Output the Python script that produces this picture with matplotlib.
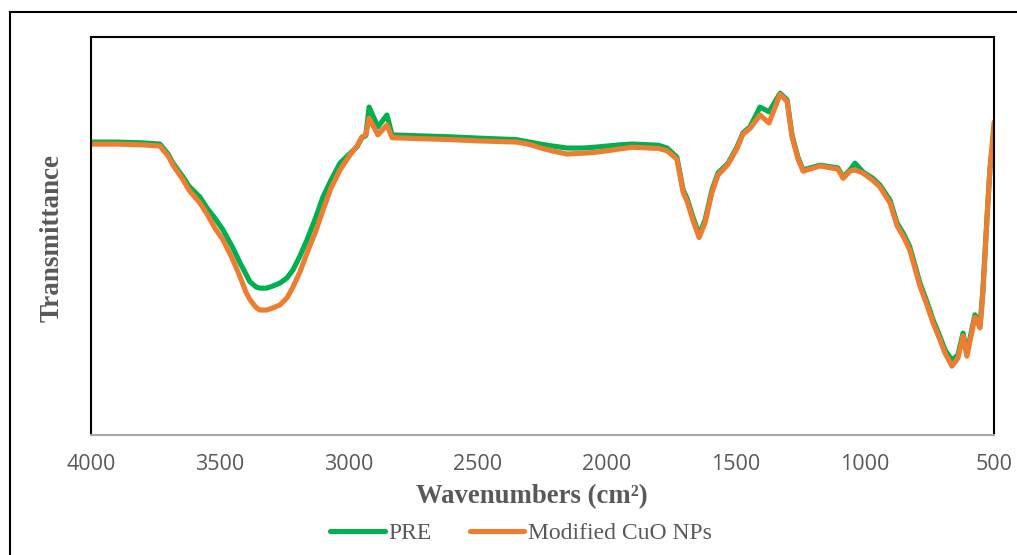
import matplotlib
matplotlib.use("Agg")
import matplotlib.pyplot as plt
from matplotlib.lines import Line2D

# ---------------- data ----------------
wavenumber = [4000, 3900, 3800, 3733, 3700, 3682, 3643, 3620, 3578, 3550, 3520,
              3488, 3450, 3422, 3400, 3384, 3360, 3345, 3320, 3300, 3267, 3240,
              3217, 3190, 3163, 3130, 3101, 3070, 3035, 3000, 2969, 2950, 2935,
              2922, 2888, 2853, 2833, 2600, 2500, 2349, 2300, 2250, 2200, 2155,
              2093, 2050, 2000, 1950, 1900, 1800, 1767, 1729, 1705, 1690,
              1667, 1643, 1620, 1593, 1570, 1531, 1496, 1473, 1446, 1407, 1372,
              1329, 1302, 1283, 1260, 1240, 1213, 1174, 1124, 1105, 1085, 1058,
              1039, 1008, 970, 942, 903, 876, 850, 826, 787, 760, 736, 710, 690,
              663, 640, 620, 605, 574, 554, 543, 527, 516, 508, 500]

pre = [73.6, 73.6, 73.4, 73.1, 70.5, 68.3, 64.8, 62.5, 59.8, 57.0, 54.5,
       51.5, 47.0, 43.2, 40.5, 38.5, 37.2, 36.9, 36.9, 37.3, 38.2, 39.5,
       41.5, 45.0, 49.0, 54.5, 59.8, 64.0, 68.3, 70.5, 72.4, 74.7, 75.2,
       82.4, 77.4, 80.4, 75.4, 74.9, 74.6, 74.2, 73.6, 73.0, 72.5, 72.1,
       72.1, 72.3, 72.6, 72.9, 73.1, 72.8, 72.1, 69.8, 61.6, 59.5,
       54.8, 50.3, 54.0, 61.6, 65.8, 68.3, 72.4, 75.9, 77.4, 82.4, 81.2,
       85.9, 84.2, 75.4, 69.8, 66.6, 67.1, 67.8, 67.3, 67.1, 64.8, 66.6,
       68.3, 66.1, 64.5, 62.8, 59.0, 53.3, 50.5, 47.2, 38.2, 33.5, 28.9, 24.8, 21.4,
       18.8, 20.1, 25.6, 20.6, 30.2, 27.6, 36.4, 54.8, 66.6, 71.6, 73.6]

cuo = [73.1, 73.1, 72.9, 72.6, 70.0, 67.8, 64.1, 61.5, 58.3, 55.5, 52.0,
       49.0, 44.0, 39.7, 36.0, 34.0, 32.0, 31.4, 31.4, 31.8, 32.7, 34.5,
       37.2, 41.0, 45.7, 51.0, 56.5, 62.0, 66.6, 70.0, 72.6, 74.9, 75.4,
       79.6, 75.4, 77.9, 74.7, 74.2, 73.9, 73.6, 73.0, 72.0, 71.2, 70.6,
       70.8, 71.0, 71.4, 71.9, 72.3, 72.0, 71.4, 69.3, 61.0, 58.8,
       54.0, 49.6, 53.3, 61.0, 65.3, 68.0, 72.0, 75.6, 77.0, 80.4, 78.4,
       85.6, 83.8, 75.0, 69.4, 66.3, 66.8, 67.6, 67.0, 66.8, 64.5, 66.3,
       66.6, 65.8, 64.0, 62.3, 58.3, 52.6, 49.7, 46.4, 37.4, 32.7, 28.1, 24.0, 20.6,
       17.3, 19.3, 24.9, 19.8, 29.6, 26.9, 35.9, 54.5, 66.6, 72.5, 78.6]

x_ticks = [4000, 3500, 3000, 2500, 2000, 1500, 1000, 500]
series_names = ["PRE", "Modified CuO NPs"]
colors = ["#00B050", "#ED7D31"]

# ---------------- figure ----------------
W, H = 1017, 555
fig = plt.figure(figsize=(W / 100, H / 100), dpi=100)
ax = fig.add_axes([91 / W, 1 - 435 / H, (994 - 91) / W, (435 - 37) / H])

for vals, name, col in zip([pre, cuo], series_names, colors):
    ax.plot(wavenumber, vals, color=col, lw=3.7, label=name,
            solid_joinstyle="round", solid_capstyle="round")

ax.set_xlim(4000, 500)
ax.set_ylim(0, 100)
ax.set_xticks(x_ticks)
ax.set_xticklabels([str(t) for t in x_ticks])
ax.set_yticks([])
ax.tick_params(axis="x", length=0, pad=14, labelsize=15.5, labelcolor="#595959")
for lbl in ax.get_xticklabels():
    lbl.set_fontfamily("Open Sans")

for side in ["left", "top", "right"]:
    ax.spines[side].set_color("black")
    ax.spines[side].set_linewidth(1.5)
ax.spines["bottom"].set_color("#A6A6A6")
ax.spines["bottom"].set_linewidth(1.5)

serif = ["Liberation Serif", "DejaVu Serif"]
fig.text(532 / W, 1 - 497 / H, "Wavenumbers (cm\u00b2)",
         ha="center", va="center", fontsize=19.3, fontweight="bold",
         family=serif, color="#595959")
fig.text(52 / W, 1 - 238 / H, "Transmittance", ha="center", va="center",
         rotation=90, fontsize=19.5, fontweight="bold", family=serif,
         color="#595959")

leg = fig.legend(loc="center", bbox_to_anchor=(521 / W, 1 - 533 / H), ncol=2,
                 frameon=False, handlelength=2.3, handletextpad=0.15,
                 columnspacing=1.62, prop={"family": serif, "size": 17})
for t in leg.get_texts():
    t.set_color("#595959")

# outer chart-area border (left and top visible)
fig.add_artist(Line2D([9.5 / W, 9.5 / W], [0, 1 - 11.5 / H], color="black",
                      lw=1.5, transform=fig.transFigure))
fig.add_artist(Line2D([9.5 / W, 1.0], [1 - 11.5 / H, 1 - 11.5 / H],
                      color="black", lw=1.5, transform=fig.transFigure))

fig.savefig("out.png", dpi=100, facecolor="white")
